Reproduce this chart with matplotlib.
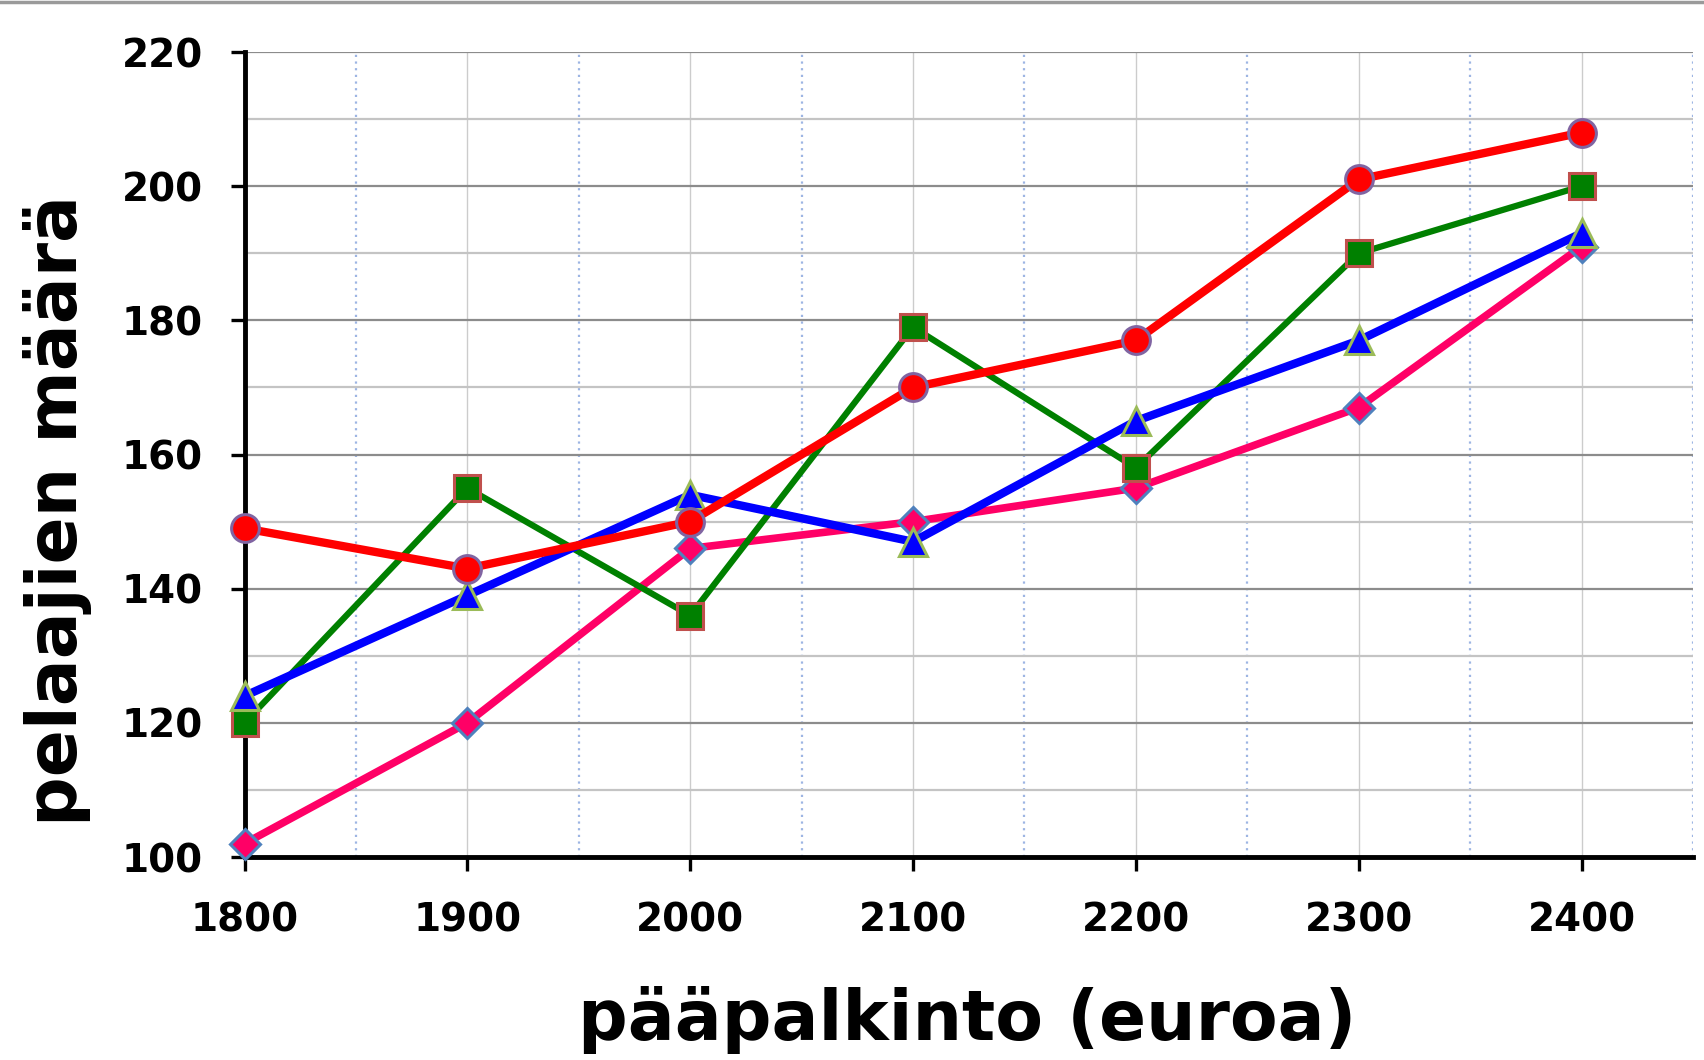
import matplotlib
matplotlib.use("Agg")
import matplotlib.pyplot as plt
from matplotlib.lines import Line2D
from matplotlib.ticker import MultipleLocator

plt.rcParams['font.family'] = ['DejaVu Sans']
plt.rcParams['font.weight'] = 'bold'

prize = [1800, 1900, 2000, 2100, 2200, 2300, 2400]

pink_diamonds = [102, 120, 146, 150, 155, 167, 191]
green_squares = [120, 155, 136, 179, 158, 190, 200]
blue_triangles = [124, 139, 154, 147, 165, 177, 193]
red_circles = [149, 143, 150, 170, 177, 201, 208]

fig = plt.figure(figsize=(17.04, 10.6), dpi=100)
ax = fig.add_axes([0.1435, 0.1915, 0.850, 0.7594])

# drawn bottom to top, same stacking as the original
ax.plot(prize, pink_diamonds, color='#ff0066', lw=5.5, marker='D', ms=15,
        mfc='#ff0066', mec='#4f81bd', mew=2.2, clip_on=False, zorder=3)
ax.plot(prize, green_squares, color='#008000', lw=4.5, marker='s', ms=19,
        mfc='#008000', mec='#c0504d', mew=2.2, clip_on=False, zorder=4)
ax.plot(prize, blue_triangles, color='#0000ff', lw=6, marker='^', ms=20,
        mfc='#0000ff', mec='#9bbb59', mew=2.2, clip_on=False, zorder=5)
ax.plot(prize, red_circles, color='#ff0000', lw=6, marker='o', ms=20,
        mfc='#ff0000', mec='#8064a2', mew=2.2, clip_on=False, zorder=6)

ax.set_xlim(1800, 2450)
ax.set_ylim(100, 220)
ax.set_xticks(prize)
ax.set_yticks(range(100, 221, 20))
ax.xaxis.set_minor_locator(MultipleLocator(50))
ax.yaxis.set_minor_locator(MultipleLocator(10))

ax.grid(which='major', axis='y', color='#8c8c8c', lw=1.6)
ax.grid(which='minor', axis='y', color='#c4c4c4', lw=1.6)
ax.grid(which='major', axis='x', color='#cccccc', lw=1.0)
ax.grid(which='minor', axis='x', color='#9db5e3', lw=1.6, ls=(0, (1, 2)))
ax.set_axisbelow(True)

for side in ['top', 'right']:
    ax.spines[side].set_visible(False)
for side in ['left', 'bottom']:
    ax.spines[side].set_linewidth(3.5)
    ax.spines[side].set_color('black')

ax.tick_params(which='major', direction='out', length=10, width=2.4,
               labelsize=28, color='black')
ax.tick_params(axis='y', pad=20)
ax.tick_params(axis='x', pad=22)
ax.tick_params(which='minor', length=0)
for lab in ax.get_xticklabels() + ax.get_yticklabels():
    lab.set_fontweight('bold')

fig.text(0.0337, 0.518, 'pelaajien määrä', rotation=90, ha='center',
         va='center', fontsize=50, fontweight='bold')
fig.text(0.5675, 0.019, 'pääpalkinto (euroa)', ha='center',
         va='baseline', fontsize=50, fontweight='bold')

# thin frame line along the top edge
fig.add_artist(Line2D([0, 1], [0.998, 0.998], transform=fig.transFigure,
                      color='#9a9a9a', lw=2.5))

fig.savefig('out.png', dpi=100, facecolor='white')
